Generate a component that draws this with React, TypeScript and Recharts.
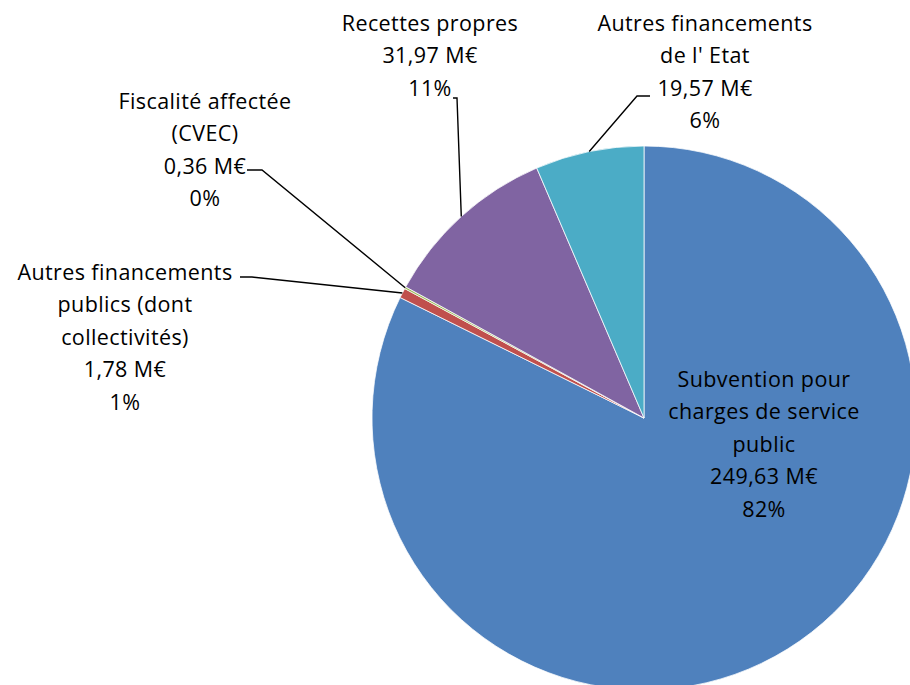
import React from 'react';
import { PieChart, Pie, Cell } from 'recharts';

// Catégories (retours à la ligne comme dans l'étiquette d'origine)
const categories = [
  'Subvention pour\ncharges de service\npublic',
  'Autres financements\npublics (dont\ncollectivités)',
  'Fiscalité affectée\n(CVEC)',
  'Recettes propres',
  'Autres financements\nde l\' Etat',
];
const montants = [249.63, 1.78, 0.36, 31.97, 19.57];
const couleurs = ['#4F81BD', '#C0504D', '#9BBB59', '#8064A2', '#4BACC6'];

// placement des étiquettes : centre x, y de la 1re ligne, coude du trait de rappel
const etiquettes = [
  { x: 764, y: 378, coude: null as null | number[] },
  { x: 125, y: 271, coude: [240, 277, 252, 277] },
  { x: 205, y: 100, coude: [247, 170, 262, 170] },
  { x: 430, y: 22, coude: [453, 98, 457, 98] },
  { x: 705, y: 22, coude: [650, 96, 637, 96] },
];

const data = categories.map((nom, i) => ({ nom, valeur: montants[i] }));
const total = montants.reduce((a, b) => a + b, 0);
const RAD = Math.PI / 180;
const INTERLIGNE = 32.5;

const fmt = (v: number) => v.toFixed(2).replace('.', ',') + ' M€';

const renderLabel = (props: any) => {
  const { cx, cy, midAngle, outerRadius, index } = props;
  const e = etiquettes[index];
  const lignes = [...categories[index].split('\n'), fmt(montants[index]), Math.round((montants[index] / total) * 100) + '%'];
  const px = cx + outerRadius * Math.cos(-midAngle * RAD);
  const py = cy + outerRadius * Math.sin(-midAngle * RAD);
  return (
    <g>
      {e.coude && (
        <polyline
          points={`${e.coude[0]},${e.coude[1]} ${e.coude[2]},${e.coude[3]} ${px},${py}`}
          fill="none"
          stroke="#000"
          strokeWidth={1.4}
        />
      )}
      {lignes.map((l, k) => (
        <text
          key={k}
          x={e.x}
          y={e.y + k * INTERLIGNE}
          textAnchor="middle"
          dominantBaseline="central"
          fill="#000"
          fontSize={21.5}
          letterSpacing={0.4}
          fontFamily="'Open Sans', sans-serif"
        >
          {l}
        </text>
      ))}
    </g>
  );
};

export default function App() {
  return (
    <div style={{ position: 'absolute', left: 0, top: 0, width: 910, height: 685, background: '#fff' }}>
      <PieChart width={910} height={685} margin={{ top: 0, right: 0, bottom: 0, left: 0 }}>
        <Pie
          data={data}
          dataKey="valeur"
          nameKey="nom"
          cx={644}
          cy={418}
          outerRadius={272}
          startAngle={90}
          endAngle={-270}
          stroke="#ffffff"
          strokeWidth={0.75}
          label={renderLabel}
          labelLine={false}
          isAnimationActive={false}
        >
          {data.map((d, i) => (
            <Cell key={i} fill={couleurs[i]} />
          ))}
        </Pie>
      </PieChart>
    </div>
  );
}
